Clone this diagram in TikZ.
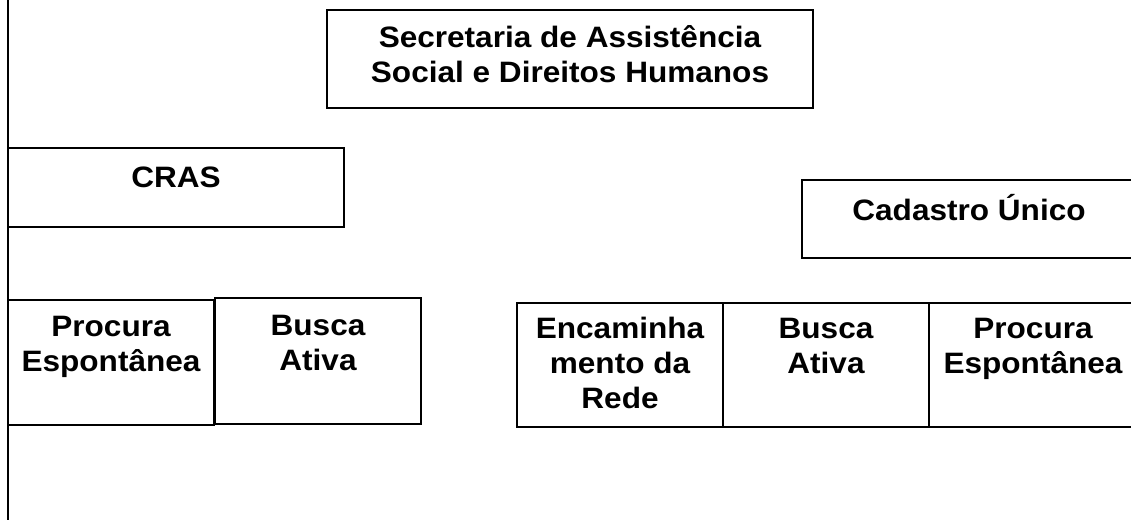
\documentclass[tikz,border=0pt]{standalone}
\usepackage{fontspec}
\setmainfont{Liberation Sans}[FakeStretch=1.07]
\usetikzlibrary{positioning}
\def\letra{\bfseries\fontsize{29.5}{35}\selectfont}

\begin{document}
\begin{tikzpicture}[x=1pt,y=-1pt,
    caixa/.style={draw,line width=1.2pt,inner sep=0pt,outer sep=0pt,
                  minimum width=206pt,minimum height=125pt},
    rotulo/.style={font=\letra,align=center,inner sep=0pt,anchor=base}]
  \useasboundingbox (0,0) rectangle (1131,520);
  \draw[line width=2.4pt] (7.8,0) -- (7.8,520);
  % topo (yshift = ate a linha de base da ultima linha)
  \node[caixa,minimum width=486pt,minimum height=98pt] (secretaria) at (570,59) {};
  \node[rotulo] (t-secretaria) at ([yshift=-72.5pt]secretaria.north)
        {Secretaria de Assistência\\Social e Direitos Humanos};
  \node[caixa,minimum width=336pt,minimum height=79pt] (cras) at (176,187.5) {};
  \node[rotulo] (t-cras) at ([yshift=-39.5pt]cras.north) {CRAS};
  \node[caixa,minimum width=334pt,minimum height=78pt] (cadastro) at (969,219) {};
  \node[rotulo] (t-cadastro) at ([yshift=-40pt]cadastro.north) {Cadastro Único};
  % CRAS
  \node[caixa] (procura1) at (111,362.5) {};
  \node[rotulo] (t-procura1) at ([yshift=-71pt]procura1.north) {Procura\\Espontânea};
  \node[caixa,minimum height=126pt] (busca1) at (318,361) {};
  \node[rotulo] (t-busca1) at ([yshift=-72pt]busca1.north) {Busca\\Ativa};
  % Cadastro Unico
  \node[caixa,minimum height=124pt] (encaminha) at (620,365) {};
  \node[rotulo] (t-encaminha) at ([yshift=-105pt]encaminha.north) {Encaminha\\mento da\\Rede};
  \node[caixa,minimum height=124pt,right=0pt of encaminha] (busca2) {};
  \node[rotulo] (t-busca2) at ([yshift=-70.5pt]busca2.north) {Busca\\Ativa};
  \node[caixa,minimum height=124pt,minimum width=208pt,right=0pt of busca2] (procura2) {};
  \node[rotulo] (t-procura2) at ([yshift=-70.5pt]procura2.north) {Procura\\Espontânea};
\end{tikzpicture}
\end{document}
